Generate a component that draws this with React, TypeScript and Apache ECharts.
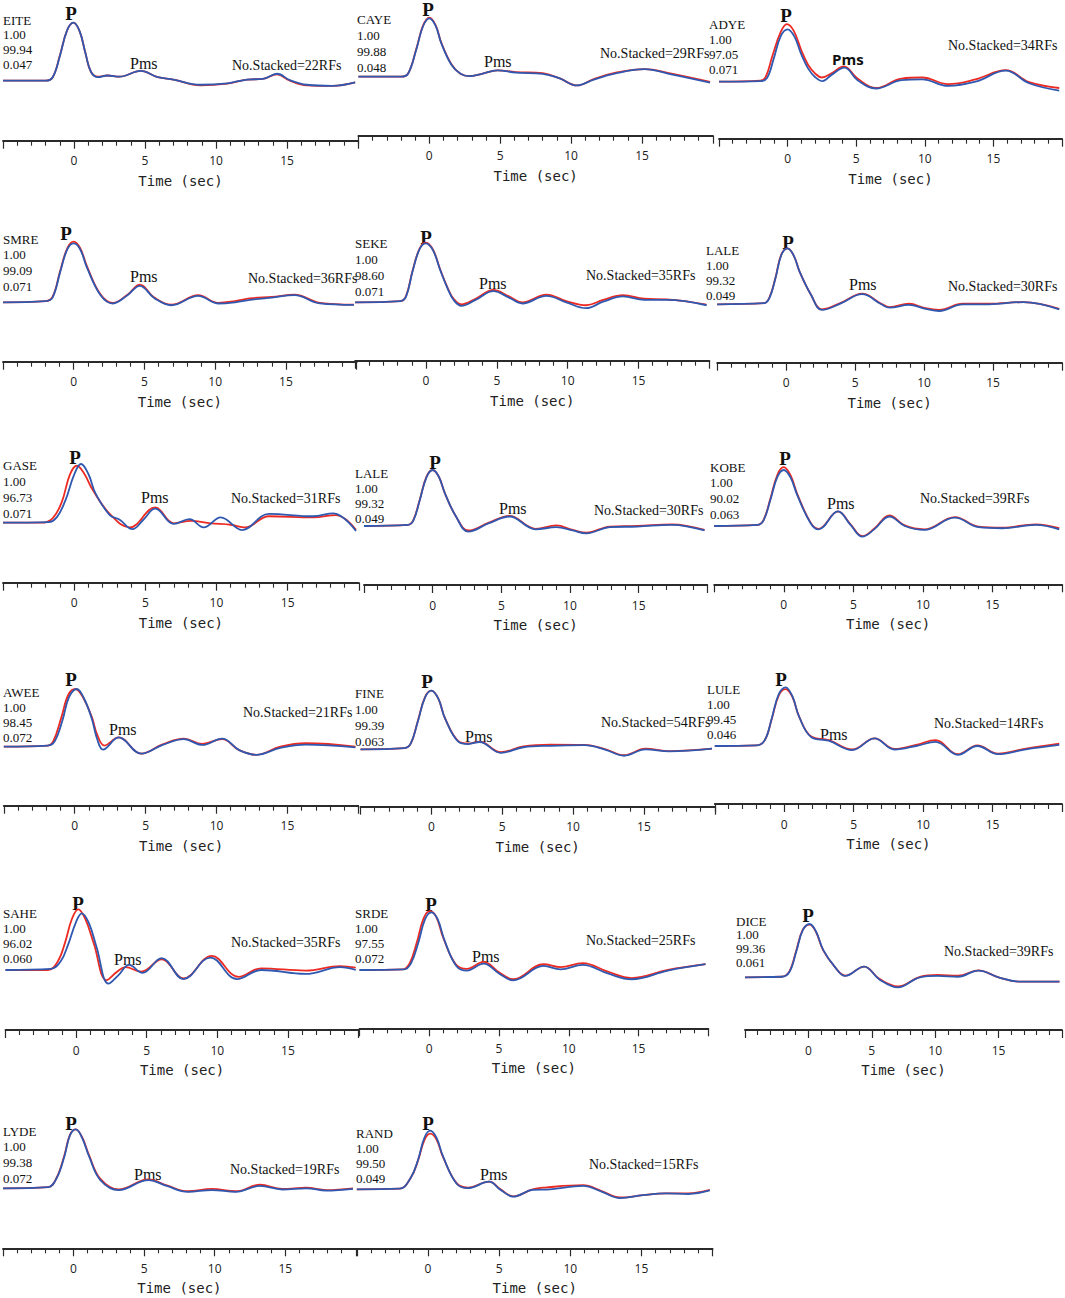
import React, { useEffect, useRef } from "react";
import * as echarts from "echarts";

// ---------------- DATA (time in s, amplitude normalised to the P peak) ----------------
const EITE_BLUE = [[-5,0],[-2,0],[-1.5,0.06],[-1,0.42],[-0.5,0.86],[-0.05,1],[0.4,0.85],[0.8,0.48],[1.2,0.15],[1.7,0.06],[2.35,0.09],[3.2,0.07],[4.7,0.17],[5.9,0.06],[7.0,0.02],[8.9,-0.07],[10.8,-0.045],[12.2,0.02],[13.3,0.03],[14.3,0.12],[15.2,0.01],[16.4,-0.07],[18.2,-0.09],[19.8,-0.03]];
const EITE_RED = [[-5,0],[-2,0],[-1.5,0.06],[-1,0.43],[-0.5,0.86],[-0.05,1],[0.4,0.85],[0.8,0.48],[1.2,0.15],[1.7,0.07],[2.35,0.09],[3.2,0.07],[4.7,0.17],[5.9,0.06],[7.0,0.02],[8.9,-0.08],[10.8,-0.05],[12.2,0.02],[13.3,0.03],[14.3,0.11],[15.2,0.0],[16.4,-0.08],[18.2,-0.09],[19.8,-0.03]];

const CAYE_BLUE = [[-5,0],[-2,0],[-1.5,0.05],[-0.9,0.48],[-0.45,0.86],[0,1],[0.45,0.87],[0.85,0.57],[1.57,0.2],[2.2,0.05],[2.8,0.01],[3.7,0.05],[4.8,0.11],[6.1,0.07],[8.0,0.05],[9.2,-0.03],[10.4,-0.15],[11.6,-0.05],[13.0,0.05],[15.2,0.13],[16.9,0.05],[19.8,-0.1]];
const CAYE_RED = [[-5,0],[-2,0],[-1.5,0.05],[-0.9,0.49],[-0.45,0.87],[0,1.01],[0.45,0.88],[0.85,0.58],[1.57,0.21],[2.2,0.05],[2.8,0.01],[3.7,0.05],[4.8,0.11],[6.1,0.08],[8.0,0.06],[9.2,-0.03],[10.4,-0.15],[11.6,-0.04],[13.0,0.06],[15.2,0.13],[16.9,0.06],[19.8,-0.09]];

const ADYE_BLUE = [[-5,0],[-2,0.01],[-1.5,0.07],[-1,0.45],[-0.5,0.87],[0,1],[0.5,0.86],[1,0.52],[1.5,0.25],[2,0.09],[2.55,0.01],[3.2,0.13],[4.15,0.27],[5.1,0.03],[6.45,-0.13],[8.3,0.03],[9.8,0.045],[11.7,-0.08],[13.7,0],[15.9,0.21],[17.6,-0.03],[19.8,-0.17]];
const ADYE_RED = [[-5,0],[-2,0.02],[-1.6,0.09],[-1.1,0.5],[-0.5,0.95],[-0.05,1.1],[0.45,0.97],[1,0.6],[1.5,0.32],[2,0.16],[2.5,0.08],[3.2,0.16],[4.1,0.29],[5.1,0.06],[6.45,-0.12],[8.3,0.06],[9.8,0.08],[11.7,-0.045],[13.7,0.045],[15.9,0.22],[17.6,-0.01],[19.8,-0.12]];

const SMRE_BLUE = [[-5,0],[-2,0.02],[-1.5,0.08],[-0.95,0.52],[-0.45,0.9],[0,1],[0.45,0.9],[0.95,0.58],[1.9,0.12],[2.76,-0.02],[3.8,0.12],[4.67,0.28],[5.7,0.07],[6.9,-0.05],[8.8,0.11],[10.2,-0.02],[11.4,0],[12.6,0.045],[14.0,0.08],[15.6,0.12],[17.4,-0.02],[19.8,-0.045]];
const SMRE_RED = [[-5,0],[-2,0.02],[-1.5,0.09],[-0.95,0.54],[-0.45,0.92],[0,1.03],[0.45,0.92],[0.95,0.6],[1.9,0.13],[2.76,-0.01],[3.8,0.13],[4.67,0.3],[5.7,0.08],[6.9,-0.04],[8.8,0.12],[10.2,-0.01],[11.4,0.02],[12.6,0.07],[14.0,0.09],[15.6,0.13],[17.4,-0.01],[19.8,-0.04]];

const SEKE_BLUE = [[-5,0],[-1.8,0.02],[-1.4,0.1],[-0.95,0.52],[-0.45,0.9],[0,1],[0.5,0.88],[1.0,0.55],[1.5,0.25],[1.95,0.04],[2.5,-0.06],[3.5,0.04],[4.76,0.19],[5.86,0.08],[6.8,-0.02],[8.5,0.11],[9.9,0],[11.3,-0.1],[12.5,0.01],[13.9,0.1],[15.4,0.04],[17.0,0.04],[19.8,-0.05]];
const SEKE_RED = [[-5,0],[-1.8,0.02],[-1.4,0.11],[-0.95,0.53],[-0.45,0.91],[0,1.01],[0.5,0.89],[1.0,0.56],[1.5,0.26],[1.95,0.06],[2.5,-0.035],[3.5,0.06],[4.76,0.21],[5.86,0.1],[6.8,0.0],[8.5,0.13],[9.9,0.02],[11.3,-0.05],[12.5,0.04],[13.9,0.12],[15.4,0.06],[17.0,0.05],[19.8,-0.04]];

const LALE_BLUE = [[-5,0],[-1.6,0.02],[-1.2,0.12],[-0.78,0.46],[-0.35,0.88],[0.1,1],[0.55,0.87],[0.98,0.58],[1.8,0.17],[2.6,-0.1],[4.0,0.02],[5.5,0.18],[6.9,0],[7.5,-0.06],[8.9,-0.01],[10.1,-0.08],[11.1,-0.12],[12.8,0],[14.7,0],[17.2,0.04],[19.8,-0.09]];
const LALE_RED = [[-5,0],[-1.6,0.02],[-1.2,0.13],[-0.78,0.47],[-0.35,0.89],[0.1,1],[0.55,0.87],[0.98,0.58],[1.8,0.17],[2.6,-0.09],[4.0,0.03],[5.5,0.19],[6.9,0.01],[7.5,-0.05],[8.9,0.01],[10.1,-0.07],[11.1,-0.1],[12.8,0.01],[14.7,0.01],[17.2,0.04],[19.8,-0.08]];

const GASE_BLUE = [[-5,0],[-1.8,0.01],[-1.2,0.1],[-0.6,0.39],[0,0.82],[0.48,1],[1.0,0.83],[1.5,0.5],[2.5,0.13],[3.2,0.05],[4.1,-0.11],[4.86,0.05],[5.7,0.24],[7.0,-0.02],[8.1,0.06],[9.1,-0.08],[10.3,0.09],[11.8,-0.125],[13.7,0.15],[16.8,0.11],[18.2,0.16],[19.8,-0.14]];
const GASE_RED = [[-5,0],[-2.3,0],[-1.5,0.08],[-0.86,0.36],[-0.3,0.82],[0.19,0.97],[0.7,0.84],[1.3,0.56],[2.5,0.15],[3.9,-0.08],[5.7,0.26],[7.0,-0.01],[8.2,0.03],[9.6,-0.01],[11.0,-0.035],[12.0,-0.08],[13.7,0.11],[16.8,0.09],[18.4,0.13],[19.8,-0.12]];

const LALE2_BLUE = [[-5,0],[-1.8,0.02],[-1.4,0.1],[-0.94,0.46],[-0.45,0.87],[0,1],[0.45,0.88],[0.9,0.58],[1.7,0.17],[2.6,-0.1],[4.1,0.05],[5.6,0.17],[7.0,-0.02],[7.5,-0.06],[9.0,-0.02],[10.2,-0.08],[11.2,-0.13],[12.9,-0.02],[14.9,-0.01],[17.4,0.02],[19.8,-0.08]];
const LALE2_RED = [[-5,0],[-1.8,0.02],[-1.4,0.11],[-0.94,0.47],[-0.45,0.88],[0,1],[0.45,0.88],[0.9,0.58],[1.7,0.17],[2.6,-0.08],[4.1,0.06],[5.6,0.18],[7.0,-0.01],[7.5,-0.05],[9.0,0.01],[10.2,-0.07],[11.2,-0.12],[12.9,-0.01],[14.9,0.0],[17.4,0.03],[19.8,-0.07]];

const KOBE_BLUE = [[-5,0],[-1.9,0.02],[-1.45,0.1],[-0.97,0.46],[-0.45,0.88],[0,1],[0.5,0.86],[0.97,0.55],[1.93,0.05],[2.5,-0.06],[3.9,0.26],[4.8,0.02],[5.65,-0.19],[6.5,-0.06],[7.6,0.17],[8.7,0],[10.1,-0.07],[12.3,0.15],[14.0,-0.02],[15.7,-0.04],[18.1,0.02],[19.8,-0.06]];
const KOBE_RED = [[-5,0],[-1.9,0.02],[-1.45,0.11],[-0.97,0.48],[-0.45,0.92],[0,1.05],[0.5,0.9],[0.97,0.57],[1.93,0.06],[2.5,-0.05],[3.9,0.26],[4.8,0.03],[5.65,-0.18],[6.5,-0.05],[7.6,0.19],[8.7,0.01],[10.1,-0.06],[12.3,0.16],[14.0,-0.01],[15.7,-0.03],[18.1,0.03],[19.8,-0.04]];

const AWEE_BLUE = [[-5,0],[-1.9,0.02],[-1.4,0.1],[-0.86,0.46],[-0.4,0.86],[0.15,1],[0.65,0.84],[1.2,0.49],[1.6,0.12],[2.0,-0.05],[3.1,0.16],[4.7,-0.12],[6.2,0.03],[7.7,0.13],[9.0,0.03],[10.4,0.14],[11.6,-0.06],[12.8,-0.14],[14.5,-0.02],[16.3,0.035],[19.8,-0.01]];
const AWEE_RED = [[-5,0],[-1.9,0.02],[-1.5,0.1],[-0.95,0.5],[-0.45,0.9],[0.05,1],[0.55,0.87],[1.2,0.52],[1.6,0.2],[2.1,0.02],[3.1,0.16],[4.7,-0.12],[6.2,0.04],[7.7,0.14],[9.0,0.05],[10.4,0.13],[11.6,-0.06],[12.8,-0.14],[14.5,0],[16.3,0.06],[19.8,0.0]];

const FINE_BLUE = [[-5,0],[-1.9,0.02],[-1.45,0.1],[-0.96,0.47],[-0.45,0.88],[0,1],[0.5,0.86],[0.96,0.53],[1.9,0.13],[2.6,0.09],[3.4,0.125],[4.9,-0.06],[6.5,0.035],[8.4,0.06],[10.8,0.07],[12.3,-0.01],[13.6,-0.11],[15.1,0],[16.8,-0.035],[19.8,0.01]];
const FINE_RED = [[-5,0],[-1.9,0.02],[-1.45,0.1],[-0.96,0.48],[-0.45,0.89],[0,1],[0.5,0.86],[0.96,0.53],[1.9,0.14],[2.6,0.1],[3.4,0.13],[4.9,-0.05],[6.5,0.05],[8.4,0.08],[10.8,0.075],[12.3,0.0],[13.6,-0.1],[15.1,0.01],[16.8,-0.03],[19.8,0.01]];

const LULE_BLUE = [[-5,0],[-2,0.01],[-1.4,0.1],[-0.9,0.47],[-0.4,0.88],[0.1,1],[0.6,0.84],[1.07,0.5],[1.95,0.15],[3.2,0.09],[4.9,-0.07],[6.5,0.13],[7.95,-0.06],[9.5,0],[10.9,0.07],[12.5,-0.15],[13.9,0.0],[15.4,-0.14],[17.3,-0.06],[19.8,0.02]];
const LULE_RED = [[-5,0],[-2,0.01],[-1.4,0.1],[-0.9,0.46],[-0.4,0.86],[0.1,0.97],[0.6,0.83],[1.07,0.5],[1.95,0.16],[3.2,0.1],[4.9,-0.06],[6.5,0.13],[7.95,-0.05],[9.5,0.02],[10.9,0.1],[12.5,-0.14],[13.9,0.01],[15.4,-0.13],[17.3,-0.05],[19.8,0.04]];

const SAHE_BLUE = [[-5,0],[-1.8,0.02],[-1.1,0.15],[-0.58,0.44],[0,0.85],[0.4,1],[0.9,0.83],[1.44,0.41],[2.3,-0.24],[3.0,-0.09],[3.75,0.09],[4.7,-0.05],[6.06,0.21],[7.6,-0.16],[9.5,0.22],[11.4,-0.16],[13.1,0],[16.25,-0.07],[18.7,0.05],[19.8,0.0]];
const SAHE_RED = [[-5,0],[-2,0],[-1.3,0.15],[-0.8,0.47],[-0.3,0.9],[0.15,1.07],[0.65,0.9],[1.25,0.47],[2.16,-0.18],[2.9,-0.03],[3.5,0.05],[4.6,-0.03],[6.06,0.19],[7.6,-0.15],[9.6,0.25],[11.5,-0.12],[13.1,0.03],[16.25,-0.01],[18.7,0.07],[19.8,0.04]];

const SRDE_BLUE = [[-5,0],[-1.8,0.01],[-1.3,0.12],[-0.8,0.46],[-0.3,0.88],[0.15,1],[0.6,0.88],[1.1,0.51],[1.94,0.07],[2.7,-0.01],[3.9,0.11],[5.0,-0.06],[6.0,-0.18],[8.2,0.07],[9.4,0.01],[11.0,0.09],[12.8,-0.06],[14.5,-0.16],[17.1,-0.01],[19.8,0.1]];
const SRDE_RED = [[-5,0],[-1.9,0.01],[-1.4,0.12],[-0.9,0.47],[-0.4,0.9],[0.05,1.02],[0.5,0.92],[1.0,0.56],[1.9,0.1],[2.7,0.02],[3.9,0.14],[5.0,-0.04],[6.0,-0.16],[8.2,0.1],[9.4,0.05],[11.0,0.12],[12.8,-0.03],[14.5,-0.14],[17.1,0.0],[19.8,0.1]];

const DICE_BLUE = [[-5,0],[-2.1,0.01],[-1.5,0.1],[-0.96,0.48],[-0.45,0.88],[0.1,1],[0.6,0.86],[1.18,0.51],[2.1,0.19],[2.9,0.025],[4.4,0.2],[5.6,-0.04],[7.06,-0.19],[8.8,0],[10.2,0.025],[11.8,0.01],[13.4,0.125],[15.0,0.0],[16.6,-0.08],[19.8,-0.08]];
const DICE_RED = [[-5,0],[-2.1,0.01],[-1.5,0.11],[-0.96,0.5],[-0.45,0.89],[0.1,0.99],[0.6,0.85],[1.18,0.5],[2.1,0.19],[2.9,0.03],[4.4,0.2],[5.6,-0.03],[7.06,-0.17],[8.8,0.01],[10.2,0.045],[11.8,0.03],[13.4,0.13],[15.0,0.0],[16.6,-0.08],[19.8,-0.08]];

const LYDE_BLUE = [[-5,0],[-1.8,0.02],[-1.2,0.17],[-0.65,0.54],[-0.25,0.9],[0.16,1],[0.6,0.86],[1.1,0.54],[1.9,0.14],[3.2,-0.03],[5.3,0.14],[6.6,0.04],[8.1,-0.06],[9.8,-0.03],[11.5,-0.06],[13.2,0.04],[14.8,-0.02],[16.5,0],[17.9,-0.04],[19.8,-0.01]];
const LYDE_RED = [[-5,0],[-1.8,0.02],[-1.2,0.18],[-0.65,0.56],[-0.25,0.91],[0.16,1],[0.6,0.87],[1.1,0.56],[1.9,0.16],[3.2,-0.02],[5.3,0.15],[6.6,0.05],[8.1,-0.05],[9.8,-0.01],[11.5,-0.05],[13.2,0.06],[14.8,-0.01],[16.5,0.01],[17.9,-0.03],[19.8,0.0]];

const RAND_BLUE = [[-5,0],[-2,0.01],[-1.2,0.2],[-0.7,0.5],[-0.25,0.88],[0.16,1],[0.6,0.88],[1.06,0.56],[2.0,0.1],[2.8,0.02],[4.3,0.13],[5.1,-0.01],[6.0,-0.125],[7.35,-0.01],[8.6,0],[10.9,0.06],[12.2,-0.04],[13.5,-0.15],[15.1,-0.1],[16.7,-0.07],[18.3,-0.08],[19.8,-0.02]];
const RAND_RED = [[-5,0],[-2,0.01],[-1.2,0.2],[-0.7,0.49],[-0.25,0.84],[0.16,0.95],[0.6,0.85],[1.06,0.55],[2.0,0.11],[2.8,0.03],[4.3,0.13],[5.1,0.0],[6.0,-0.12],[7.35,0.0],[8.2,0.03],[10.9,0.07],[12.2,-0.03],[13.5,-0.14],[15.1,-0.1],[16.7,-0.07],[18.3,-0.07],[19.8,-0.01]];

const STATIONS = ["EITE","CAYE","ADYE","SMRE","SEKE","LALE","GASE","LALE","KOBE","AWEE","FINE","LULE","SAHE","SRDE","DICE","LYDE","RAND"];
const AMPLITUDES = ["1.00","1.00","1.00","1.00","1.00","1.00","1.00","1.00","1.00","1.00","1.00","1.00","1.00","1.00","1.00","1.00","1.00"];
const FITS = ["99.94","99.88","97.05","99.09","98.60","99.32","96.73","99.32","90.02","98.45","99.39","99.45","96.02","97.55","99.36","99.38","99.50"];
const GAUSS = ["0.047","0.048","0.071","0.071","0.071","0.049","0.071","0.049","0.063","0.072","0.063","0.046","0.060","0.072","0.061","0.072","0.049"];
const STACKED = [22,29,34,36,35,30,31,30,39,21,54,14,35,25,39,19,15];
const HAS_PMS = [true,true,true,true,true,true,true,true,true,true,true,true,true,true,false,true,true];
const TRACES = [
  [EITE_RED, EITE_BLUE],[CAYE_RED, CAYE_BLUE],[ADYE_RED, ADYE_BLUE],
  [SMRE_RED, SMRE_BLUE],[SEKE_RED, SEKE_BLUE],[LALE_RED, LALE_BLUE],
  [GASE_RED, GASE_BLUE],[LALE2_RED, LALE2_BLUE],[KOBE_RED, KOBE_BLUE],
  [AWEE_RED, AWEE_BLUE],[FINE_RED, FINE_BLUE],[LULE_RED, LULE_BLUE],
  [SAHE_RED, SAHE_BLUE],[SRDE_RED, SRDE_BLUE],[DICE_RED, DICE_BLUE],
  [LYDE_RED, LYDE_BLUE],[RAND_RED, RAND_BLUE],
];
const TIME_MIN = -5;
const TIME_MAX = 20;
const TICK_LABELS = [0, 5, 10, 15];
const X_NAME = "Time (sec)";

// ---------------- LAYOUT (pixels) ----------------
type L = { x0: number; x1: number; peak: number; base: number; axis: number; st: number[]; p: number[]; pms: number[]; ns: number[]; sans?: boolean };
const LAYOUT: L[] = [
  { x0: 2.2, x1: 358, peak: 22.7, base: 80.7, axis: 140.7, st: [3, 20, 14.8], p: [71, 13], pms: [130, 63], ns: [232, 65] },
  { x0: 358.4, x1: 712.9, peak: 18.3, base: 76.7, axis: 135.7, st: [357, 19, 16], p: [428, 9], pms: [484, 61], ns: [600, 53] },
  { x0: 719, x1: 1064, peak: 29.3, base: 81.7, axis: 138.7, st: [709, 24, 15.3], p: [786, 15], pms: [832, 59], ns: [948, 45], sans: true },
  { x0: 0, x1: 356.7, peak: 243.3, base: 302.3, axis: 361.7, st: [3, 239, 15.7], p: [66, 233], pms: [130, 276], ns: [248, 278] },
  { x0: 355.1, x1: 709.4, peak: 243.3, base: 302.3, axis: 360.7, st: [355, 243, 16], p: [426, 237], pms: [479, 283], ns: [586, 275] },
  { x0: 717.2, x1: 1064, peak: 248.3, base: 304.3, axis: 362.7, st: [706, 250, 15.3], p: [788, 242], pms: [849, 284], ns: [948, 286] },
  { x0: 2.1, x1: 358.8, peak: 464, base: 522.7, axis: 582.7, st: [3, 465, 16], p: [75, 457], pms: [141, 497], ns: [231, 498] },
  { x0: 364, x1: 707.3, peak: 470, base: 526, axis: 585, st: [355, 473, 15], p: [435, 462], pms: [499, 508], ns: [594, 510] },
  { x0: 714.2, x1: 1064, peak: 470, base: 526, axis: 584.3, st: [710, 467, 15.7], p: [785, 458], pms: [827, 503], ns: [920, 498] },
  { x0: 3.8, x1: 358.3, peak: 689, base: 746.7, axis: 805.7, st: [3, 692, 15.3], p: [71, 679], pms: [109, 729], ns: [243, 712] },
  { x0: 360.5, x1: 714.8, peak: 690.7, base: 749.3, axis: 806.7, st: [355, 693, 16], p: [427, 681], pms: [465, 736], ns: [601, 722] },
  { x0: 714.8, x1: 1063.6, peak: 687.3, base: 746, axis: 804, st: [707, 689, 15.3], p: [781, 679], pms: [820, 734], ns: [934, 723] },
  { x0: 5.5, x1: 358.6, peak: 913.3, base: 970, axis: 1030, st: [3, 913, 15.3], p: [78, 903], pms: [114, 959], ns: [231, 942] },
  { x0: 359.5, x1: 708.3, peak: 912.3, base: 970, axis: 1028.3, st: [355, 913, 15.3], p: [431, 904], pms: [472, 956], ns: [586, 940] },
  { x0: 745, x1: 1062, peak: 924, base: 977.3, axis: 1030, st: [736, 921, 13.7], p: [808, 915], pms: [0, 0], ns: [944, 951] },
  { x0: 0, x1: 355.8, peak: 1129.3, base: 1188.3, axis: 1248.3, st: [3, 1131, 15.7], p: [71, 1123], pms: [134, 1174], ns: [230, 1169] },
  { x0: 356.8, x1: 712.6, peak: 1130.7, base: 1189.3, axis: 1248.3, st: [356, 1133, 15.3], p: [428, 1123], pms: [480, 1174], ns: [589, 1164] },
];

const RED = "#ec2a22";
const BLUE = "#2f58b0";
const AXIS_COLOR = "#2a2a2a";
const SERIF = "'Liberation Serif', 'Times New Roman', serif";
const SANS = "'Open Sans', 'DejaVu Sans', sans-serif";
const MONO = "'DejaVu Sans Mono', monospace";
const PAD = 14;

function txt(text: string, x: number, y: number, font: string, align = "left", weight = "normal") {
  return {
    type: "text",
    x, y,
    silent: true,
    style: {
      text,
      fill: "#111",
      font: `${weight} ${font}`,
      align, textAlign: align,
      verticalAlign: "middle", textVerticalAlign: "middle",
    },
  };
}

function buildOption() {
  const grids: any[] = [];
  const xAxes: any[] = [];
  const yAxes: any[] = [];
  const series: any[] = [];
  const elements: any[] = [];

  LAYOUT.forEach((L, i) => {
    const top = L.peak - PAD;
    const ppu = L.base - L.peak;
    grids.push({ left: L.x0, top, width: L.x1 - L.x0, height: L.axis - top, containLabel: false });
    xAxes.push({
      gridIndex: i, type: "value", min: TIME_MIN, max: TIME_MAX, interval: 5,
      position: "bottom",
      axisLine: { show: true, onZero: false, lineStyle: { color: AXIS_COLOR, width: 1.8 } },
      axisTick: { show: true, inside: false, length: 8, lineStyle: { color: AXIS_COLOR, width: 1.2 } },
      minorTick: { show: true, splitNumber: 5, length: 5, lineStyle: { color: AXIS_COLOR, width: 1.1 } },
      splitLine: { show: false }, minorSplitLine: { show: false },
      axisLabel: {
        show: true, margin: 14, fontSize: 12, color: "#222", fontFamily: SANS,
        showMinLabel: true, showMaxLabel: true,
        formatter: (v: number) => (TICK_LABELS.indexOf(v) >= 0 ? String(v) : ""),
      },
      name: X_NAME, nameLocation: "middle", nameGap: 33,
      nameTextStyle: { fontSize: 14, color: "#222", fontFamily: MONO },
    });
    yAxes.push({ gridIndex: i, type: "value", show: false, min: -(L.axis - L.base) / ppu, max: 1 + PAD / ppu });
    const [red, blue] = TRACES[i];
    series.push({
      type: "line", xAxisIndex: i, yAxisIndex: i, data: red, smooth: 0.4, symbol: "none", clip: false, silent: true,
      lineStyle: { color: RED, width: 1.8 }, z: 2,
    });
    series.push({
      type: "line", xAxisIndex: i, yAxisIndex: i, data: blue, smooth: 0.4, symbol: "none", clip: false, silent: true,
      lineStyle: { color: BLUE, width: 1.8 }, z: 3,
    });

    const block = [STATIONS[i], AMPLITUDES[i], FITS[i], GAUSS[i]];
    block.forEach((s, k) => elements.push(txt(s, L.st[0], L.st[1] + k * L.st[2], `13px ${SERIF}`)));
    elements.push(txt("P", L.p[0], L.p[1], `19px ${SERIF}`, "center", "bold"));
    if (HAS_PMS[i]) {
      elements.push(L.sans ? txt("Pms", L.pms[0], L.pms[1], `15px ${SANS}`, "left", "bold")
                           : txt("Pms", L.pms[0], L.pms[1], `16px ${SERIF}`, "left"));
    }
    elements.push(txt(`No.Stacked=${STACKED[i]}RFs`, L.ns[0], L.ns[1], `14px ${SERIF}`));
  });

  return {
    animation: false,
    backgroundColor: "#ffffff",
    grid: grids, xAxis: xAxes, yAxis: yAxes, series,
    graphic: { elements },
  };
}

export default function App() {
  const ref = useRef<HTMLDivElement>(null);
  useEffect(() => {
    document.body.style.margin = "0";
    if (!ref.current) return;
    const chart = echarts.init(ref.current, undefined, { renderer: "svg", width: 1065, height: 1298 });
    chart.setOption(buildOption() as any);
    return () => chart.dispose();
  }, []);
  return <div ref={ref} style={{ position: "absolute", left: 0, top: 0, width: 1065, height: 1298, background: "#fff" }} />;
}
